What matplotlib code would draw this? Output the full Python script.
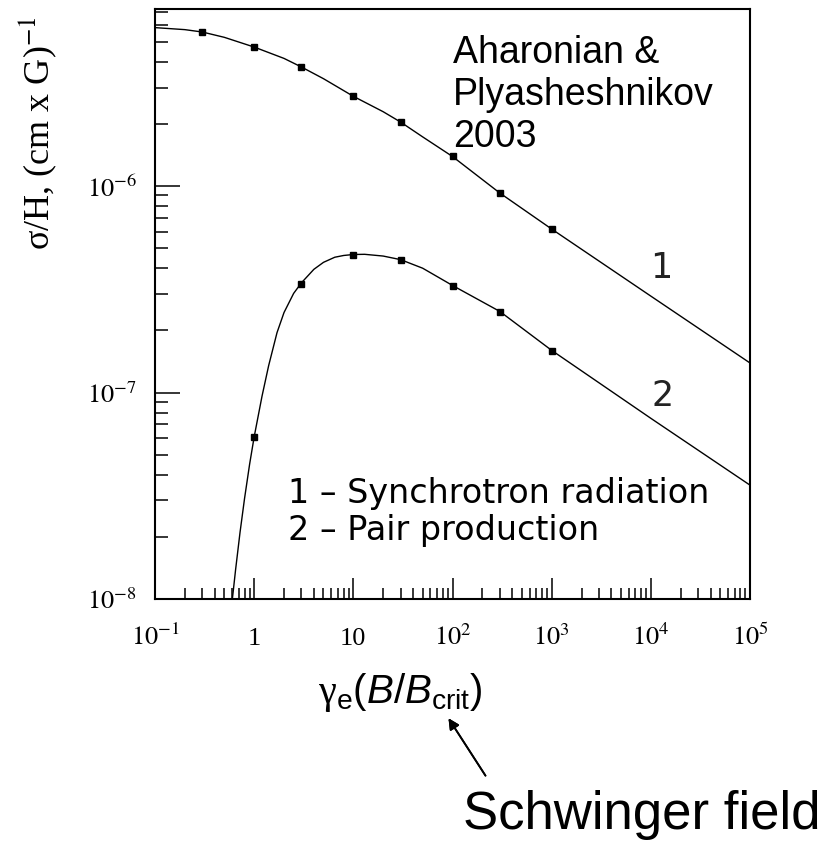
import matplotlib.pyplot as plt
from matplotlib.ticker import FixedLocator, LogLocator, NullFormatter

# energy-loss cross sections per unit field, Aharonian & Plyasheshnikov (2003)
chi_sync = [0.1, 0.2, 0.3, 0.5, 1, 2, 3, 5, 10, 20, 30, 50, 100, 300, 1e3, 1e4, 1e5]
sigma_sync = [5.85e-6, 5.72e-6, 5.57e-6, 5.25e-6, 4.71e-6, 4.15e-6, 3.77e-6, 3.31e-6,
              2.72e-6, 2.29e-6, 2.04e-6, 1.73e-6, 1.39e-6, 9.25e-7, 6.19e-7, 2.93e-7, 1.39e-7]

chi_pair = [0.58, 0.6, 0.65, 0.72, 0.8, 0.9, 1, 1.2, 1.4, 1.7, 2, 2.5, 3, 4, 5, 6.5, 8,
            10, 13, 20, 30, 50, 100, 300, 1e3, 1e4, 1e5]
sigma_pair = [8.2e-9, 9.8e-9, 1.39e-8, 2.10e-8, 3.07e-8, 4.5e-8, 6.1e-8, 9.6e-8, 1.35e-7,
              1.95e-7, 2.44e-7, 3.02e-7, 3.40e-7, 3.95e-7, 4.27e-7, 4.52e-7, 4.61e-7,
              4.66e-7, 4.67e-7, 4.58e-7, 4.40e-7, 4.0e-7, 3.3e-7, 2.47e-7, 1.6e-7, 7.5e-8, 3.56e-8]

# Monte Carlo points
chi_sync_pts = [0.3, 1, 3, 10, 30, 100, 300, 1000]
sigma_sync_pts = [5.57e-6, 4.71e-6, 3.77e-6, 2.72e-6, 2.04e-6, 1.39e-6, 9.25e-7, 6.19e-7]
chi_pair_pts = [1, 3, 10, 30, 100, 300, 1000]
sigma_pair_pts = [6.1e-8, 3.37e-7, 4.66e-7, 4.40e-7, 3.28e-7, 2.46e-7, 1.58e-7]

xticks = [1e-1, 1, 10, 1e2, 1e3, 1e4, 1e5]
xticklabels = [r'$10^{-1}$', '1', '10', r'$10^{2}$', r'$10^{3}$', r'$10^{4}$', r'$10^{5}$']
yticks = [1e-8, 1e-7, 1e-6]
yticklabels = [r'$10^{-8}$', r'$10^{-7}$', r'$10^{-6}$']

plt.rcParams['mathtext.fontset'] = 'custom'
plt.rcParams['mathtext.rm'] = 'Liberation Sans'
plt.rcParams['mathtext.it'] = 'Liberation Sans:italic'
plt.rcParams['mathtext.sf'] = 'Liberation Sans'
plt.rcParams['mathtext.cal'] = 'Liberation Serif'

W, H = 823, 855


def fpos(x, y):
    """pixel position (from top-left) -> figure fraction"""
    return x / W, 1 - y / H


fig = plt.figure(figsize=(W / 100, H / 100), dpi=100)
ax = fig.add_axes([155 / W, 1 - 599 / H, (750 - 155) / W, (599 - 9) / H])

ax.plot(chi_sync, sigma_sync, color='black', lw=1.0)
ax.plot(chi_pair, sigma_pair, color='black', lw=1.0)
ax.plot(chi_sync_pts, sigma_sync_pts, ls='none', marker='s', ms=5, color='black')
ax.plot(chi_pair_pts, sigma_pair_pts, ls='none', marker='s', ms=5, color='black')

ax.set_xscale('log')
ax.set_yscale('log')
ax.set_xlim(1e-1, 1e5)
ax.set_ylim(1e-8, 7.2e-6)

for s in ax.spines.values():
    s.set_linewidth(1.5)

ax.xaxis.set_major_locator(FixedLocator(xticks))
ax.xaxis.set_minor_locator(LogLocator(base=10, subs=range(2, 10), numticks=20))
ax.xaxis.set_minor_formatter(NullFormatter())
ax.set_xticklabels(xticklabels, family='Liberation Serif', math_fontfamily='stix', fontsize=19)
ax.yaxis.set_major_locator(FixedLocator(yticks))
ax.yaxis.set_minor_locator(LogLocator(base=10, subs=range(2, 10), numticks=20))
ax.yaxis.set_minor_formatter(NullFormatter())
ax.set_yticklabels(yticklabels, family='Liberation Serif', math_fontfamily='stix', fontsize=19)

ax.tick_params(axis='x', which='major', direction='in', length=15, width=1.1, top=False, pad=33)
ax.tick_params(axis='x', which='minor', direction='in', length=8, width=1.1, top=False)
ax.tick_params(axis='y', which='major', direction='in', length=18, width=1.1, right=False, pad=13)
ax.tick_params(axis='y', which='minor', direction='in', length=9.5, width=1.1, right=False)
for lab in ax.get_xticklabels():
    lab.set_va('baseline')

# curve numbers
ax.text(1.26e4, 4.0e-7, '1', fontsize=25, color='#222222', ha='center', va='center')
ax.text(1.3e4, 9.6e-8, '2', fontsize=25, color='#222222', ha='center', va='center')

# key
fig.text(*fpos(288, 503), '1 \u2013 Synchrotron radiation', fontsize=24, va='baseline')
fig.text(*fpos(288, 540), '2 \u2013 Pair production', fontsize=24, va='baseline')

# reference note, baseline of the last line
fig.text(*fpos(453, 147), 'Aharonian &\nPlyasheshnikov\n2003', family='Liberation Sans',
         fontsize=27, va='baseline', linespacing=1.22)

fig.text(*fpos(38, 133), 'σ/H, (cm x G)$^{-1}$', rotation=90, family='Liberation Serif',
         math_fontfamily='stix', fontsize=26, ha='center', va='center')

fig.text(*fpos(400, 703), r'$\mathcal{\gamma}_{\mathrm{e}}(\mathit{B}/\mathit{B}_{\mathrm{crit}})$',
         fontsize=29, ha='center', va='baseline')

fig.text(*fpos(463, 829), 'Schwinger field', family='Liberation Sans', fontsize=38, va='baseline')
fig.add_artist(plt.annotate('', xy=fpos(447, 716), xytext=fpos(487, 778),
                            xycoords='figure fraction', textcoords='figure fraction',
                            arrowprops=dict(arrowstyle='-|>', color='black', lw=1.3,
                                            mutation_scale=16)))

fig.savefig('out.png', dpi=100)
